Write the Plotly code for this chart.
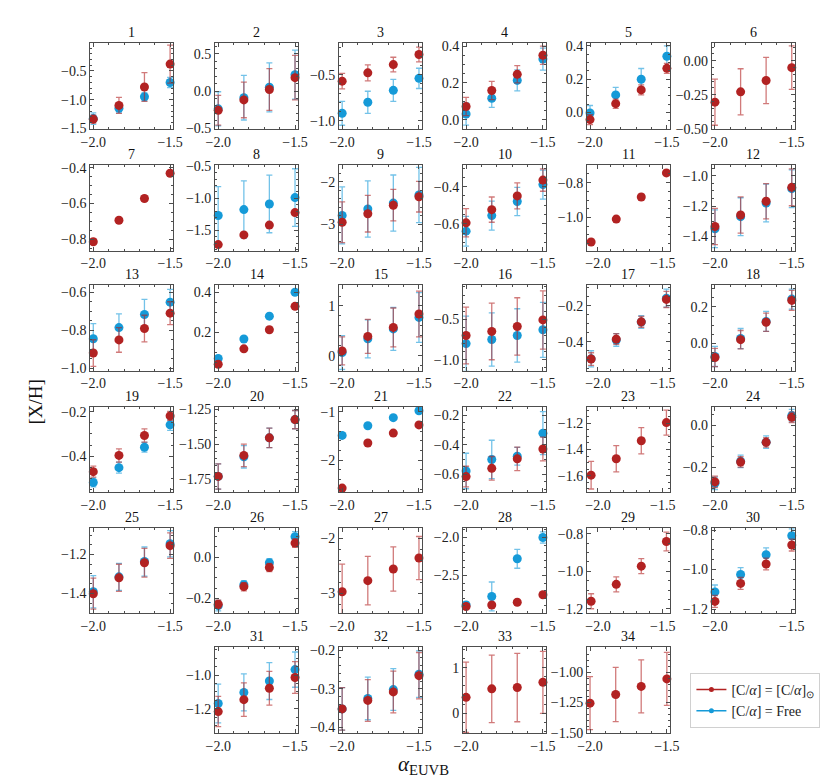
import plotly.graph_objects as go

W, H = 831, 782

# alpha_EUVB grid (a few panels were run on a slightly shifted grid)
alpha = [-2.0, -1.833, -1.667, -1.5]
alpha_shift = [-2.053, -1.859, -1.666, -1.472]
shift_panels = [11, 17, 23, 29]

panels = list(range(1, 35))

# [X/H] for [C/alpha] = solar
red_y = [
    [-1.34, -1.10, -0.78, -0.38], [-0.26, -0.12, 0.02, 0.18], [-0.57, -0.48, -0.39, -0.28],
    [0.072, 0.159, 0.247, 0.351], [-0.044, 0.052, 0.135, 0.265], [-0.305, -0.229, -0.146, -0.051],
    [-0.815, -0.694, -0.572, -0.43], [-1.725, -1.574, -1.42, -1.225], [-2.95, -2.75, -2.55, -2.35],
    [-0.595, -0.524, -0.45, -0.365], [-1.14, -1.009, -0.882, -0.744], [-1.335, -1.259, -1.168, -1.076],
    [-0.92, -0.851, -0.791, -0.71], [0.041, 0.118, 0.213, 0.33], [0.098, 0.39, 0.57, 0.84],
    [-0.70, -0.65, -0.589, -0.508], [-0.496, -0.385, -0.289, -0.164], [-0.077, 0.021, 0.116, 0.236],
    [-0.47, -0.397, -0.307, -0.219], [-1.73, -1.58, -1.455, -1.325], [-2.58, -1.646, -1.442, -1.272],
    [-0.616, -0.56, -0.496, -0.429], [-1.595, -1.47, -1.333, -1.195], [-0.27, -0.175, -0.081, 0.039],
    [-1.402, -1.32, -1.242, -1.154], [-0.228, -0.143, -0.05, 0.068], [-2.97, -2.77, -2.56, -2.36],
    [-2.909, -2.888, -2.853, -2.754], [-1.159, -1.069, -0.972, -0.841], [-1.161, -1.07, -0.972, -0.876],
    [-1.217, -1.146, -1.078, -1.014], [-0.352, -0.330, -0.308, -0.266], [0.35, 0.536, 0.564, 0.679],
    [-1.255, -1.183, -1.116, -1.054],
]
red_err = [
    [0.07, 0.14, 0.25, 0.33], [0.2, 0.24, 0.28, 0.3], [0.085, 0.087, 0.08, 0.08],
    [0.05, 0.05, 0.047, 0.05], [0.03, 0.028, 0.03, 0.03], [0.17, 0.17, 0.17, 0.16],
    [0.015, 0.015, 0.015, 0.015], [0.02, 0.02, 0.02, 0.02], [0.48, 0.43, 0.37, 0.36],
    [0.076, 0.068, 0.07, 0.06], [0.015, 0.015, 0.015, 0.015], [0.12, 0.12, 0.117, 0.122],
    [0.07, 0.065, 0.07, 0.06], [0.004, 0.004, 0.004, 0.004], [0.28, 0.34, 0.39, 0.46],
    [0.35, 0.35, 0.355, 0.36], [0.035, 0.03, 0.03, 0.045], [0.05, 0.05, 0.05, 0.055],
    [0.025, 0.03, 0.03, 0.02], [0.09, 0.08, 0.07, 0.065], [0.005, 0.005, 0.005, 0.005],
    [0.07, 0.08, 0.08, 0.08], [0.105, 0.1, 0.1, 0.095], [0.027, 0.025, 0.023, 0.025],
    [0.08, 0.07, 0.074, 0.066], [0.02, 0.02, 0.02, 0.02], [0.5, 0.44, 0.4, 0.39],
    [0.02, 0.02, 0.02, 0.02], [0.04, 0.04, 0.04, 0.05], [0.03, 0.03, 0.03, 0.03],
    [0.09, 0.1, 0.1, 0.095], [0.055, 0.054, 0.054, 0.06], [0.77, 0.74, 0.75, 0.68],
    [0.22, 0.225, 0.22, 0.22],
]

# [X/H] for free [C/alpha] (None where not fitted)
blue_y = [
    [-1.33, -1.15, -0.95, -0.70], [-0.24, -0.09, 0.05, 0.22], [-0.92, -0.80, -0.67, -0.54],
    [0.031, 0.117, 0.214, 0.33], [-0.004, 0.105, 0.199, 0.338], None,
    None, [-1.27, -1.178, -1.09, -0.99], [-2.79, -2.64, -2.5, -2.31],
    [-0.64, -0.556, -0.48, -0.389], None, [-1.35, -1.27, -1.18, -1.085],
    [-0.845, -0.786, -0.717, -0.652], [0.07, 0.167, 0.281, 0.40], [0.065, 0.34, 0.54, 0.77],
    [-0.80, -0.75, -0.70, -0.63], [-0.495, -0.39, -0.29, -0.157], [-0.071, 0.027, 0.121, 0.243],
    [-0.519, -0.452, -0.36, -0.259], [-1.73, -1.59, -1.455, -1.325], [-1.49, -1.29, -1.122, -0.98],
    [-0.578, -0.50, -0.478, -0.322], None, [-0.277, -0.172, -0.08, 0.047],
    [-1.392, -1.315, -1.236, -1.144], [-0.235, -0.134, -0.027, 0.099], None,
    [-2.888, -2.776, -2.28, -2.0], None, [-1.113, -1.025, -0.925, -0.829],
    [-1.169, -1.103, -1.035, -0.967], [-0.352, -0.325, -0.302, -0.262], None,
    None,
]
blue_err = [
    [0.10, 0.08, 0.07, 0.09], [0.23, 0.3, 0.33, 0.33], [0.13, 0.12, 0.12, 0.11],
    [0.06, 0.05, 0.057, 0.06], [0.045, 0.045, 0.065, 0.063], None,
    None, [0.45, 0.45, 0.45, 0.45], [0.67, 0.66, 0.66, 0.65],
    [0.08, 0.078, 0.076, 0.078], None, [0.125, 0.125, 0.125, 0.125],
    [0.08, 0.072, 0.08, 0.067], [0.004, 0.004, 0.004, 0.004], [0.34, 0.38, 0.43, 0.5],
    [0.34, 0.33, 0.33, 0.34], [0.045, 0.035, 0.035, 0.05], [0.055, 0.055, 0.055, 0.055],
    [0.02, 0.025, 0.022, 0.025], [0.09, 0.08, 0.07, 0.065], [0.005, 0.005, 0.005, 0.005],
    [0.12, 0.13, 0.06, 0.145], None, [0.03, 0.03, 0.03, 0.03],
    [0.083, 0.07, 0.075, 0.068], [0.025, 0.02, 0.02, 0.025], None,
    [0.04, 0.19, 0.125, 0.075], None, [0.035, 0.035, 0.035, 0.035],
    [0.115, 0.11, 0.11, 0.105], [0.055, 0.055, 0.054, 0.06], None,
    None,
]

# per-panel y limits and major tick step
y_ranges = [
    [-1.51, -0.02], [-0.51, 0.64], [-1.09, -0.16], [-0.05, 0.415], [-0.1, 0.415], [-0.502, 0.127],
    [-0.865, -0.385], [-1.82, -0.485], [-3.62, -1.61], [-0.745, -0.285], [-1.19, -0.70], [-1.495, -0.93],
    [-1.012, -0.562], [0.01, 0.436], [-0.295, 1.42], [-1.133, -0.077], [-0.56, -0.084], [-0.148, 0.32],
    [-0.563, -0.178], [-1.843, -1.234], [-2.667, -0.898], [-0.722, -0.144], [-1.725, -1.075], [-0.32, 0.089],
    [-1.502, -1.061], [-0.271, 0.143], [-3.357, -1.81], [-2.995, -1.87], [-1.222, -0.767], [-1.22, -0.788],
    [-1.344, -0.835], [-0.414, -0.193], [-0.43, 1.443], [-1.502, -0.793],
]
y_dticks = [
    0.5, 0.5, 0.5, 0.2, 0.2, 0.25,
    0.2, 0.5, 1, 0.2, 0.2, 0.2,
    0.2, 0.2, 1, 0.5, 0.2, 0.2,
    0.2, 0.25, 1, 0.2, 0.2, 0.2,
    0.2, 0.2, 1, 0.5, 0.2, 0.2,
    0.2, 0.1, 1, 0.25,
]

RED = "#B22222"
BLUE = "#159AD8"
RED_BAR = "rgba(178,34,34,0.6)"
BLUE_BAR = "rgba(21,154,216,0.6)"
FONT = "Liberation Serif"
AX = "#4d4d4d"

col_left = [74, 202, 329, 456, 583, 711]
row_top = [30, 154, 276, 400, 523, 645]
pw, ph = 85, 87

minor_of = {0.5: 0.1, 0.2: 0.05, 0.25: 0.05, 1: 0.2, 0.1: 0.02}
fmt_of = {0.5: ".1f", 0.2: ".1f", 0.25: ".2f", 1: ".0f", 0.1: ".1f"}

fig = go.Figure()
layout = {}
annotations = []

for i, n in enumerate(panels):
    if i < 30:
        r, c = divmod(i, 6)
    else:
        r, c = 5, i - 30 + 1
    left, top = col_left[c], row_top[r]
    xd = [left / W, (left + pw) / W]
    yd = [1 - (top + ph) / H, 1 - top / H]
    sfx = "" if i == 0 else str(i + 1)
    xs = alpha_shift if n in shift_panels else alpha
    xr = [-2.085, -1.445] if n in shift_panels else [-2.02, -1.48]
    dt = y_dticks[i]

    common = dict(
        showline=True, linecolor=AX, linewidth=1, mirror="ticks",
        ticks="inside", ticklen=4, tickwidth=1, tickcolor=AX,
        showgrid=False, zeroline=False, tick0=0,
        tickfont=dict(family=FONT, size=14, color="#222"),
    )
    layout["xaxis" + sfx] = dict(
        common, domain=xd, range=xr, anchor="y" + sfx, dtick=0.5, tickformat=".1f",
        minor=dict(dtick=0.1, tick0=0, ticks="inside", ticklen=2, tickcolor=AX),
    )
    layout["yaxis" + sfx] = dict(
        common, domain=yd, range=y_ranges[i], anchor="x" + sfx, dtick=dt,
        tickformat=fmt_of[dt],
        minor=dict(dtick=minor_of[dt], tick0=0, ticks="inside", ticklen=2, tickcolor=AX),
    )

    if blue_y[i] is not None:
        fig.add_trace(go.Scatter(
            x=xs, y=blue_y[i], mode="markers", xaxis="x" + sfx, yaxis="y" + sfx,
            marker=dict(color=BLUE, size=9),
            error_y=dict(type="data", array=blue_err[i], color=BLUE_BAR, thickness=1.3, width=3),
            showlegend=False, cliponaxis=False,
        ))
    fig.add_trace(go.Scatter(
        x=xs, y=red_y[i], mode="markers", xaxis="x" + sfx, yaxis="y" + sfx,
        marker=dict(color=RED, size=9),
        error_y=dict(type="data", array=red_err[i], color=RED_BAR, thickness=1.3, width=3),
        showlegend=False, cliponaxis=False,
    ))

    annotations.append(dict(
        text=str(n), x=(xd[0] + xd[1]) / 2, y=yd[1] + 1 / H, xref="paper", yref="paper",
        xanchor="center", yanchor="bottom", showarrow=False,
        font=dict(family=FONT, size=14, color="#111"),
    ))

# legend entries (line + dot)
fig.add_trace(go.Scatter(
    x=[None], y=[None], mode="lines+markers", name="[C/<i>α</i>] = [C/<i>α</i>]<sub>⊙</sub>",
    line=dict(color=RED, width=1.5), marker=dict(color=RED, size=5),
))
fig.add_trace(go.Scatter(
    x=[None], y=[None], mode="lines+markers", name="[C/<i>α</i>] = Free",
    line=dict(color=BLUE, width=1.5), marker=dict(color=BLUE, size=5),
))

annotations.append(dict(
    text="[X/H]", x=18 / W, y=1 - 395 / H, xref="paper", yref="paper", textangle=-90,
    showarrow=False, xanchor="center", yanchor="middle",
    font=dict(family=FONT, size=19, color="#111"),
))
annotations.append(dict(
    text="<i>α</i><sub>EUVB</sub>", x=415 / W, y=1 - 765 / H, xref="paper", yref="paper",
    showarrow=False, xanchor="center", yanchor="middle",
    font=dict(family=FONT, size=21, color="#111"),
))

fig.update_layout(
    layout,
    width=W, height=H,
    margin=dict(l=0, r=0, t=0, b=0),
    paper_bgcolor="white", plot_bgcolor="white",
    annotations=annotations,
    showlegend=True,
    legend=dict(
        x=689 / W, y=1 - 671 / H, xanchor="left", yanchor="top",
        bgcolor="white", bordercolor="#d0d0d0", borderwidth=1,
        font=dict(family=FONT, size=14, color="#222"),
        itemwidth=30, tracegroupgap=0,
    ),
)

fig.write_html("out.html")
